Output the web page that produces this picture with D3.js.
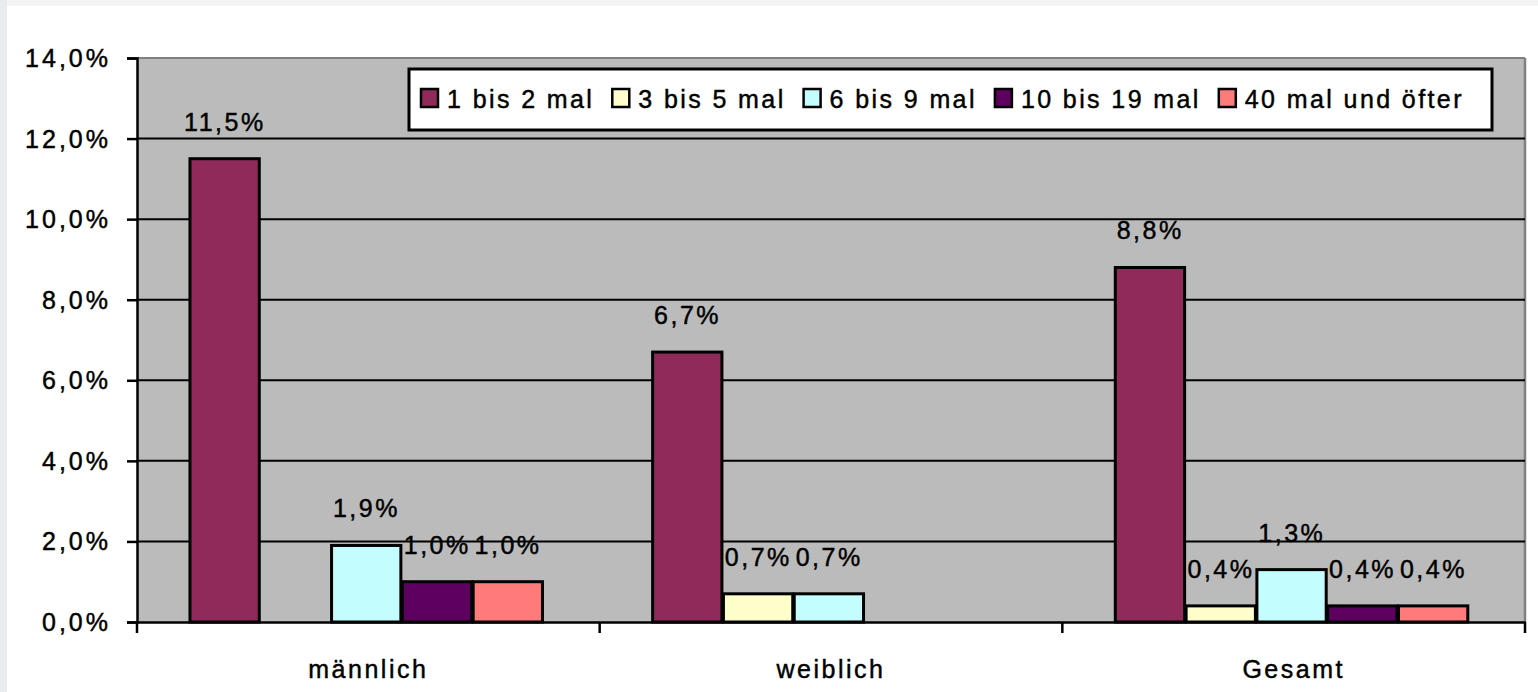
<!DOCTYPE html>
<html>
<head>
<meta charset="utf-8">
<script src="https://cdn.jsdelivr.net/npm/d3@7"></script>
<style>
  html, body { margin: 0; padding: 0; background: #ffffff; }
  svg { display: block; }
  text { font-family: "Liberation Sans", Arial, sans-serif; fill: #000; stroke: #000; stroke-width: 0.45px; }
</style>
</head>
<body>
<svg id="chart" width="1538" height="692"></svg>
<script>
// ---- data ----
const categories = ["männlich", "weiblich", "Gesamt"];
const seriesNames = ["1 bis 2 mal", "3 bis 5 mal", "6 bis 9 mal", "10 bis 19 mal", "40 mal und öfter"];
const seriesColors = ["#8f2a5b", "#ffffcc", "#c4fdfd", "#5e005e", "#ff7b7b"];
const vals_1bis2 = [11.5, 6.7, 8.8];
const vals_3bis5 = [null, 0.7, 0.4];
const vals_6bis9 = [1.9, 0.7, 1.3];
const vals_10bis19 = [1.0, null, 0.4];
const vals_40plus = [1.0, null, 0.4];
const yTickValues = [0, 2, 4, 6, 8, 10, 12, 14];

const seriesValues = [vals_1bis2, vals_3bis5, vals_6bis9, vals_10bis19, vals_40plus];

// ---- layout ----
const svg = d3.select("#chart");
const plot = { left: 137, right: 1525, top: 58, bottom: 622 };

const loc = d3.formatLocale({ decimal: ",", thousands: ".", grouping: [3], currency: ["", "€"] });
const fmt = v => loc.format(".1f")(v) + "%";

// light frame strips at the picture edges
svg.append("rect").attr("x", 0).attr("y", 0).attr("width", 1538).attr("height", 6).attr("fill", "#f4f4f5");
svg.append("rect").attr("x", 0).attr("y", 0).attr("width", 7).attr("height", 692).attr("fill", "#e9ebee");

const y = d3.scaleLinear().domain([0, 14]).range([plot.bottom, plot.top]);
const x0 = d3.scaleBand().domain(categories).range([plot.left, plot.right]).paddingInner(0).paddingOuter(0);
const bw = x0.bandwidth();
const barW = bw / 6.535;
const x1 = d3.scaleBand().domain(seriesNames).range([barW * 0.727, barW * 0.727 + 5 * barW]).padding(0);

// plot background
svg.append("rect")
  .attr("x", plot.left).attr("y", plot.top)
  .attr("width", plot.right - plot.left).attr("height", plot.bottom - plot.top)
  .attr("fill", "#bbbbbb");

// top & right border (grey)
svg.append("line").attr("x1", plot.left).attr("x2", plot.right).attr("y1", plot.top).attr("y2", plot.top)
  .attr("stroke", "#808080").attr("stroke-width", 2);
svg.append("line").attr("x1", plot.right).attr("x2", plot.right).attr("y1", plot.top).attr("y2", plot.bottom)
  .attr("stroke", "#808080").attr("stroke-width", 2.5);

// gridlines
svg.append("g").selectAll("line")
  .data(yTickValues.filter(d => d > 0 && d < 14))
  .join("line")
  .attr("x1", plot.left).attr("x2", plot.right)
  .attr("y1", d => y(d)).attr("y2", d => y(d))
  .attr("stroke", "#000").attr("stroke-width", 2);

// y axis
const yAxis = d3.axisLeft(y).tickValues(yTickValues).tickSize(10).tickPadding(16).tickFormat(fmt);
const gy = svg.append("g").attr("transform", `translate(${plot.left},0)`).call(yAxis);
gy.select(".domain").attr("stroke", "#000").attr("stroke-width", 2.5);
gy.selectAll(".tick line").attr("stroke", "#000").attr("stroke-width", 2.5);
gy.selectAll(".tick text")
  .attr("font-size", 25).attr("letter-spacing", "3px")
  .attr("font-family", "Liberation Sans, Arial, sans-serif")
  .attr("fill", "#000").attr("dy", "0.34em");

// x axis
const xAxis = d3.axisBottom(x0).tickSize(0).tickFormat("");
const gx = svg.append("g").attr("transform", `translate(0,${plot.bottom})`).call(xAxis);
gx.select(".domain").attr("stroke", "#000").attr("stroke-width", 2.5);
// category boundary tick marks
const boundaries = categories.map(c => x0(c)).concat([x0(categories[categories.length - 1]) + bw]);
svg.append("g").selectAll("line").data(boundaries).join("line")
  .attr("x1", d => d).attr("x2", d => d)
  .attr("y1", plot.bottom).attr("y2", plot.bottom + 11)
  .attr("stroke", "#000").attr("stroke-width", 2.5);
// category labels
svg.append("g").selectAll("text").data(categories).join("text")
  .attr("x", d => x0(d) + bw / 2)
  .attr("y", 678)
  .attr("text-anchor", "middle")
  .attr("font-size", 25).attr("letter-spacing", "2.5px")
  .text(d => d);

// bars
const rows = [];
categories.forEach((c, ci) => {
  seriesNames.forEach((s, si) => {
    const v = seriesValues[si][ci];
    if (v !== null && v !== undefined) rows.push({ c, s, si, v });
  });
});

const gb = svg.append("g");
gb.selectAll("rect").data(rows).join("rect")
  .attr("x", d => x0(d.c) + x1(d.s) + 1.5)
  .attr("y", d => y(d.v))
  .attr("width", x1.bandwidth() - 1.5)
  .attr("height", d => plot.bottom - y(d.v))
  .attr("fill", d => seriesColors[d.si])
  .attr("stroke", "#000").attr("stroke-width", 3);

// bar value labels
svg.append("g").selectAll("text").data(rows).join("text")
  .attr("x", d => x0(d.c) + x1(d.s) + x1.bandwidth() / 2 + 1)
  .attr("y", d => y(d.v) - 28)
  .attr("text-anchor", "middle")
  .attr("font-size", 25).attr("letter-spacing", "2.5px")
  .text(d => fmt(d.v));

// legend
const legend = { x: 409, y: 69, w: 1083, h: 61 };
svg.append("rect")
  .attr("x", legend.x).attr("y", legend.y).attr("width", legend.w).attr("height", legend.h)
  .attr("fill", "#ffffff").attr("stroke", "#000").attr("stroke-width", 3);
const lg = svg.append("g");
let lx = legend.x + 12;
seriesNames.forEach((s, i) => {
  lg.append("rect")
    .attr("x", lx).attr("y", 89).attr("width", 17).attr("height", 18)
    .attr("fill", seriesColors[i]).attr("stroke", "#000").attr("stroke-width", 2.5);
  const t = lg.append("text")
    .attr("x", lx + 26).attr("y", 108)
    .attr("font-size", 25).attr("letter-spacing", "2.4px")
    .text(s);
  const w = t.node().getComputedTextLength();
  lx = lx + 26 + w + 18;
});
</script>
</body>
</html>
